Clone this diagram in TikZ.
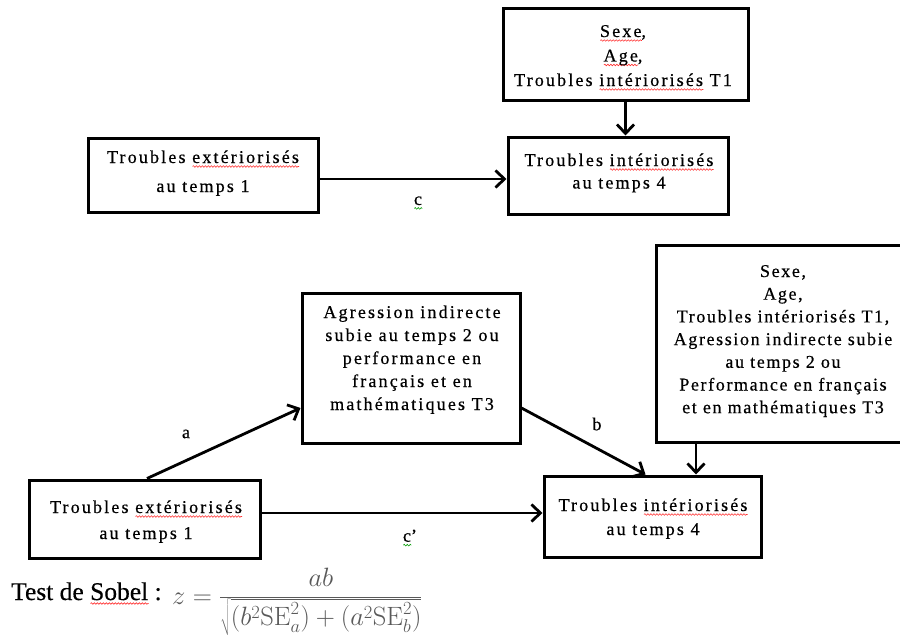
\documentclass[tikz,border=0pt]{standalone}
\usepackage{fix-cm}
\usepackage[no-math]{fontspec}
\setmainfont{Liberation Serif}
\newfontfamily\boxfont{Liberation Serif}[LetterSpace=12,FakeBold=0.5]
\newfontfamily\covfont{Liberation Serif}[LetterSpace=9,FakeBold=0.5]
\newfontfamily\sobelfont{Liberation Serif}[FakeBold=0.4]
\usetikzlibrary{arrows.meta,decorations.pathmorphing}

% wavy proofing underline under a word
\newsavebox\wavybox
\newcommand\wavy[2][red!80]{%
  \sbox\wavybox{#2}%
  \rlap{\raisebox{-3.5pt}{\tikz[baseline=0pt]\draw[#1,line width=0.6pt,decorate,
    decoration={snake,amplitude=0.8pt,segment length=3pt}] (0pt,0pt) -- (\wd\wavybox,0pt);}}%
  \usebox\wavybox}
% centred lines, baseline on the first line
\newcommand\lines[1]{\begin{tabular}[t]{@{}c@{}}#1\end{tabular}}

\tikzset{
  frame/.style={draw, line width=3pt, inner sep=0pt},
  txt/.style={anchor=base, inner sep=0pt, font=\boxfont\fontsize{18}{#1}\selectfont},
  arr/.style={line width=2.8pt, -{Straight Barb[length=9pt,width=17pt]}},
  lbl/.style={inner sep=0pt, font=\boxfont\fontsize{18}{22}\selectfont}
}

\begin{document}
\begin{tikzpicture}[x=1pt,y=-1pt]
\useasboundingbox (0,0) rectangle (900,637);
\clip (0,0) rectangle (900,637);

% ---- total effect model
\node[frame, minimum width=245pt, minimum height=92pt] (tr) at (625.5,54) {};
\node[txt=24.5] (trtext) at (623,37)
  {\lines{\wavy{Sexe},\\ \wavy{Age},\\ Troubles \wavy{intériorisés} T1}};
\node[frame, minimum width=230pt, minimum height=74pt] (tl) at (203,175) {};
\node[txt=29] (tltext) at (203,163)
  {\lines{Troubles \wavy{extériorisés}\\ au temps 1}};
\node[frame, minimum width=220pt, minimum height=77pt] (tm) at (618,175.5) {};
\node[txt=22.5] (tmtext) at (619,166)
  {\lines{Troubles \wavy{intériorisés}\\ au temps 4}};

\draw[arr] (tr.south) -- (tr.south |- tm.north);
\draw[arr] ([yshift=-4pt]tl.east) -- ([yshift=-4pt]tl.east -| tm.west);
\node[lbl] (lc) at (418,203) {\wavy[green!60!black]{c}};

% ---- mediation model
\node[frame, minimum width=218pt, minimum height=150pt] (med) at (411,368) {};
\node[txt=23] (medtext) at (412,318)
  {\lines{Agression indirecte\\ subie au temps 2 ou\\ performance en\\ français et en\\ mathématiques T3}};
\node[frame, minimum width=254pt, minimum height=197pt] (cov) at (783,343.5) {};
\node[anchor=base, inner sep=0pt, font=\covfont\fontsize{18}{22.7}\selectfont] (covtext) at (783,277)
  {\lines{Sexe,\\ Age,\\ Troubles intériorisés T1,\\ Agression indirecte subie\\ au temps 2 ou\\ Performance en français\\ et en mathématiques T3}};
\node[frame, minimum width=231pt, minimum height=78pt] (bl) at (144.5,519) {};
\node[txt=26] (bltext) at (146,513)
  {\lines{Troubles \wavy{extériorisés}\\ au temps 1}};
\node[frame, minimum width=217pt, minimum height=81pt] (br) at (652.5,516.5) {};
\node[txt=24] (brtext) at (653,511)
  {\lines{Troubles \wavy{intériorisés}\\ au temps 4}};

\draw[arr] ([xshift=2.5pt]bl.north) -- ([yshift=-40pt]med.west);
\draw[arr] ([yshift=-40pt]med.east) -- ([xshift=-7pt]br.north);
\draw[arr] ([xshift=43.5pt]br.north |- cov.south) -- ([xshift=43.5pt]br.north);
\draw[arr] ([yshift=6pt]bl.east) -- ([yshift=6pt]bl.east -| br.west);

\node[lbl] (la) at (186,434) {a};
\node[lbl] (lb) at (597,424) {b};
\node[lbl] (lcp) at (410,538) {\wavy[green!60!black]{c}’};

% ---- Sobel test
\node[anchor=base west, inner sep=0pt, font=\sobelfont\fontsize{25.5}{30}\selectfont] (sobel) at (11,600)
  {Test de \wavy{Sobel} :};
\node[anchor=base west, inner sep=0pt, text=black!65, font=\fontsize{26.5}{30}\selectfont] (zform) at (172,604)
  {$z=\displaystyle\frac{ab}{\sqrt{(b^2\mathrm{SE}_a^2)+(a^2\mathrm{SE}_b^2)}}$};
\end{tikzpicture}
\end{document}
